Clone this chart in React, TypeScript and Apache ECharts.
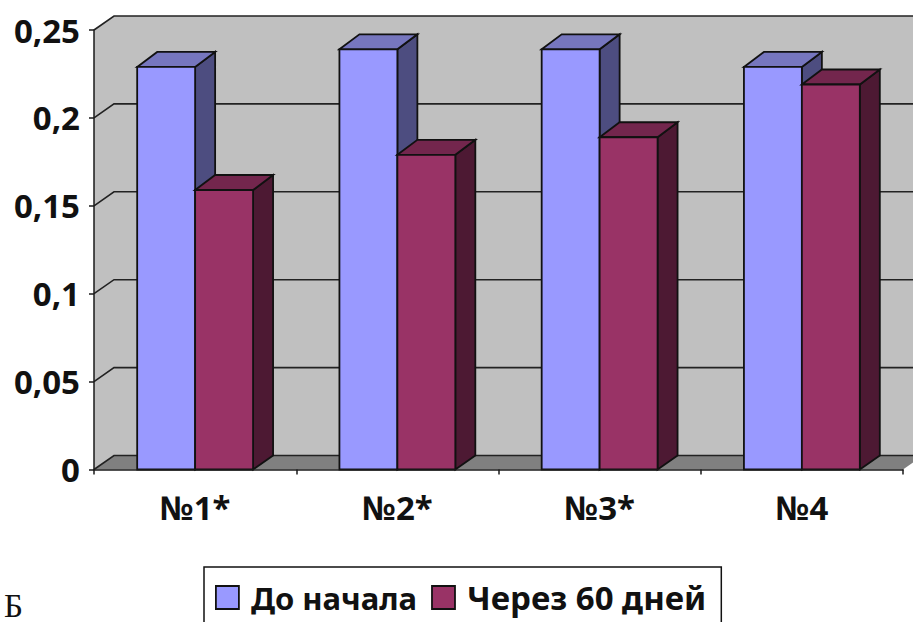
import React, { useEffect, useRef } from "react";
import * as echarts from "echarts";

const categories = ["№1*", "№2*", "№3*", "№4"];
const beforeValues = [0.229, 0.239, 0.239, 0.229];
const afterValues = [0.159, 0.179, 0.189, 0.219];
const yTicks = [0, 0.05, 0.1, 0.15, 0.2, 0.25];
const seriesNames = ["До начала", "Через 60 дней"];

const DEPTH_X = 20;
const DEPTH_Y = 14;
const BAR_TOP_DEPTH_Y = 15;
const BAR_RATIO = 0.2865;
const EDGE = "#111111";
const FONT = "'Noto Sans', sans-serif";

type Palette = { front: string; top: string; side: string };
const bluePalette: Palette = { front: "#9999FF", top: "#7676BE", side: "#4D4D80" };
const redPalette: Palette = { front: "#993366", top: "#73264D", side: "#4D1933" };

// Wall, floor and gridlines of the box that stands behind the bars.
function renderBox(params: any, api: any) {
  const sys = params.coordSys;
  const left = sys.x;
  const right = sys.x + sys.width;
  const base = api.coord([0, 0])[1];
  const top = api.coord([0, 0.25])[1];
  const poly = (points: number[][], fill: string) => ({
    type: "polygon",
    shape: { points },
    style: { fill, stroke: "none" },
  });
  const children: any[] = [
    poly(
      [
        [left + DEPTH_X, top - DEPTH_Y],
        [right + DEPTH_X, top - DEPTH_Y],
        [right + DEPTH_X, base - DEPTH_Y],
        [left + DEPTH_X, base - DEPTH_Y],
      ],
      "#C0C0C0"
    ),
    poly(
      [
        [left, top],
        [left + DEPTH_X, top - DEPTH_Y],
        [left + DEPTH_X, base - DEPTH_Y],
        [left, base],
      ],
      "#C0C0C0"
    ),
    poly(
      [
        [left, base],
        [left + DEPTH_X, base - DEPTH_Y],
        [right + DEPTH_X, base - DEPTH_Y],
        [right, base],
      ],
      "#808080"
    ),
  ];
  yTicks.forEach((t) => {
    const y = api.coord([0, t])[1];
    children.push({
      type: "polyline",
      shape: {
        points: [
          [left, y],
          [left + DEPTH_X, y - DEPTH_Y],
          [right + DEPTH_X, y - DEPTH_Y],
        ],
      },
      style: { fill: "none", stroke: "#222222", lineWidth: 1.6 },
    });
  });
  return { type: "group", children };
}

// One bar drawn as a front face, a top face and a right side face.
function barRenderer(palette: Palette, offsetSign: number) {
  return (_params: any, api: any) => {
    const cat = api.value(0);
    const val = api.value(1);
    const [cx, y] = api.coord([cat, val]);
    const [, y0] = api.coord([cat, 0]);
    const w = api.size([1, 0])[0] * BAR_RATIO;
    const x0 = offsetSign < 0 ? cx - w : cx;
    const x1 = x0 + w;
    const face = (points: number[][], fill: string) => ({
      type: "polygon",
      shape: { points },
      style: { fill, stroke: EDGE, lineWidth: 1.8, lineJoin: "miter" },
    });
    return {
      type: "group",
      children: [
        face(
          [
            [x1, y],
            [x1 + DEPTH_X, y - BAR_TOP_DEPTH_Y],
            [x1 + DEPTH_X, y0 - DEPTH_Y],
            [x1, y0],
          ],
          palette.side
        ),
        face(
          [
            [x0, y],
            [x0 + DEPTH_X, y - BAR_TOP_DEPTH_Y],
            [x1 + DEPTH_X, y - BAR_TOP_DEPTH_Y],
            [x1, y],
          ],
          palette.top
        ),
        face(
          [
            [x0, y],
            [x1, y],
            [x1, y0],
            [x0, y0],
          ],
          palette.front
        ),
      ],
    };
  };
}

export default function App() {
  const ref = useRef<HTMLDivElement>(null);

  useEffect(() => {
    const chart = echarts.init(ref.current!, undefined, { renderer: "svg" });
    const toBarData = (values: number[]) => values.map((v, i) => [i, v]);
    const legendText = (fontSize: number) => ({
      fontFamily: FONT,
      fontWeight: "bold",
      fontSize,
      color: "#111",
      padding: [0, 0, 0, 7],
    });
    chart.setOption({
      animation: false,
      backgroundColor: "#FFFFFF",
      grid: { left: 94, right: 10, top: 30, bottom: 152.5 },
      xAxis: {
        type: "category",
        data: categories,
        z: 10,
        axisLine: { lineStyle: { color: "#1a1a1a", width: 1.5 } },
        axisTick: { show: true, length: 5, alignWithLabel: false, lineStyle: { color: "#1a1a1a", width: 1.5 } },
        axisLabel: { fontFamily: FONT, fontWeight: "bold", fontSize: 33, color: "#111", margin: 21 },
      },
      yAxis: {
        type: "value",
        min: 0,
        max: 0.25,
        interval: 0.05,
        z: 10,
        splitLine: { show: false },
        axisLine: { show: true, lineStyle: { color: "#1a1a1a", width: 1.5 } },
        axisTick: { show: true, length: 5, lineStyle: { color: "#1a1a1a", width: 1.5 } },
        axisLabel: {
          fontFamily: FONT,
          fontWeight: "bold",
          fontSize: 33,
          color: "#111",
          margin: 14,
          formatter: (v: number) => String(v).replace(".", ","),
        },
      },
      legend: {
        left: 204,
        top: 567,
        orient: "horizontal",
        padding: [14, 15, 30, 11],
        itemWidth: 23,
        itemHeight: 23,
        itemGap: 14,
        backgroundColor: "#FFFFFF",
        borderColor: "#111",
        borderWidth: 1.5,
        borderRadius: 0,
        selectedMode: false,
        textStyle: legendText(32),
        data: [
          {
            name: seriesNames[0],
            icon: "rect",
            itemStyle: { color: bluePalette.front, borderColor: EDGE, borderWidth: 1.8 },
            textStyle: legendText(31),
          },
          {
            name: seriesNames[1],
            icon: "rect",
            itemStyle: { color: redPalette.front, borderColor: EDGE, borderWidth: 1.8 },
            textStyle: legendText(33),
          },
        ],
      },
      graphic: [
        {
          type: "text",
          left: 4,
          top: 589,
          style: { text: "Б", fontFamily: "'Liberation Serif', serif", fontSize: 33, fill: "#111" },
        },
      ],
      series: [
        { type: "custom", name: "box", renderItem: renderBox, data: [[0, 0]], clip: false, silent: true, z: 1 },
        {
          type: "custom",
          name: seriesNames[0],
          renderItem: barRenderer(bluePalette, -1),
          data: toBarData(beforeValues),
          encode: { x: 0, y: 1 },
          clip: false,
          itemStyle: { color: bluePalette.front },
          z: 2,
        },
        {
          type: "custom",
          name: seriesNames[1],
          renderItem: barRenderer(redPalette, 1),
          data: toBarData(afterValues),
          encode: { x: 0, y: 1 },
          clip: false,
          itemStyle: { color: redPalette.front },
          z: 3,
        },
      ],
    });
    return () => chart.dispose();
  }, []);

  return <div ref={ref} style={{ position: "absolute", left: 0, top: 0, width: 913, height: 622 }} />;
}
